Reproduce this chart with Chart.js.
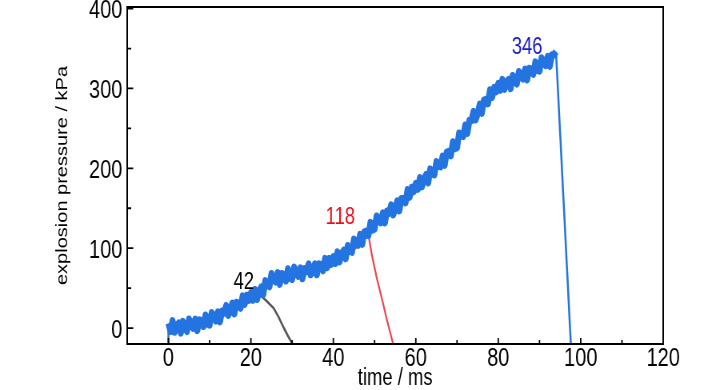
<!DOCTYPE html>
<html>
<head>
<meta charset="utf-8">
<script src="https://cdn.jsdelivr.net/npm/chart.js@4/dist/chart.umd.min.js"></script>
<style>
  html, body { margin: 0; padding: 0; background: #fff; overflow: hidden; }
  #wrap { width: 728px; height: 390px; overflow: hidden; }
  /* the original figure uses a narrow face, so the whole drawing is condensed */
  #pressure { transform: scaleX(0.8); transform-origin: 0 0; }
</style>
</head>
<body>
<div id="wrap"><canvas id="pressure" width="910" height="390"></canvas></div>
<script>
// blue trace (full explosion), sampled every 0.5 ms from 0 to 94 ms
const blueStepMs = 0.5;
const bluePressure = [
  6,-4,9,-5,3,6,-6,8,0,-4,11,4,0,11,-3,10,9,2,16,5,
  4,19,14,9,20,8,21,19,28,16,21,31,18,32,31,25,40,30,41,35,
  44,35,48,36,46,51,42,59,54,52,68,61,58,69,55,68,66,59,74,63,
  61,76,70,65,75,62,74,71,80,67,71,80,67,80,79,72,87,76,87,80,
  89,81,95,83,93,97,87,103,97,95,111,106,104,117,105,120,121,116,132,123,
  124,140,136,132,144,132,146,144,154,142,148,159,147,162,162,157,173,164,176,171,
  181,174,188,177,187,192,182,199,193,192,208,203,202,215,204,220,221,216,233,225,
  226,244,242,240,254,244,260,260,271,261,268,280,269,285,286,281,298,289,301,296,
  306,298,311,299,308,311,300,316,309,306,321,315,312,324,311,325,324,318,333,323,
  322,338,333,329,340,328,342,342,346
];
const blueHeadTime = [0, 0];
const blueHeadPressure = [-20, 3];
const blueDropTime = [94, 97.6];
const blueDropPressure = [346, -20];

// gray trace (vented at 42 kPa)
const grayTime = [22.5, 24, 25.5, 26.7, 28, 29, 30.1];
const grayPressure = [40, 33, 25, 14, 0, -10, -20];

// red trace (vented at 118 kPa)
const redTime = [43, 45, 47, 48.4, 49.4, 50.6, 52.0, 53.0, 54.5];
const redPressure = [90, 98, 108, 120, 90, 61, 32, 10, -20];

// peak annotations
const peakText = ['42', '118', '346'];
const peakTime = [18.3, 41.7, 87];
const peakPressure = [57, 138, 351];
const peakColor = ['#000000', '#e8101c', '#1a1acc'];

const xTicks = [0, 20, 40, 60, 80, 100, 120];
const xMinor = [10, 30, 50, 70, 90, 110];
const yTicks = [0, 100, 200, 300, 400];
const yMinor = [50, 150, 250, 350];

const FONT = "'Liberation Sans', Arial, sans-serif";
const BLUE = '#2373e0';

function pts(t, p) {
  return t.map((v, i) => ({ x: v, y: p[i] }));
}

const blueNoisy = bluePressure.map((p, i) => ({ x: i * blueStepMs, y: p }));

// box, inward ticks and peak labels
const decor = {
  id: 'decor',
  afterDatasetsDraw(chart) {
    const ctx = chart.ctx;
    const a = chart.chartArea;
    const xs = chart.scales.x, ys = chart.scales.y;
    ctx.save();
    ctx.strokeStyle = '#000';
    ctx.lineWidth = 2;
    ctx.strokeRect(a.left, a.top, a.right - a.left, a.bottom - a.top);
    ctx.lineWidth = 1.8;
    ctx.beginPath();
    xTicks.forEach(v => { const px = xs.getPixelForValue(v); ctx.moveTo(px, a.bottom); ctx.lineTo(px, a.bottom - 6); });
    xMinor.forEach(v => { const px = xs.getPixelForValue(v); ctx.moveTo(px, a.bottom); ctx.lineTo(px, a.bottom - 4); });
    yTicks.forEach(v => { const py = ys.getPixelForValue(v); ctx.moveTo(a.left, py); ctx.lineTo(a.left + 7.5, py); });
    yMinor.forEach(v => { const py = ys.getPixelForValue(v); ctx.moveTo(a.left, py); ctx.lineTo(a.left + 5, py); });
    ctx.stroke();
    ctx.font = '23px ' + FONT;
    ctx.textAlign = 'center';
    ctx.textBaseline = 'middle';
    peakText.forEach((s, i) => {
      ctx.fillStyle = peakColor[i];
      ctx.fillText(s, xs.getPixelForValue(peakTime[i]), ys.getPixelForValue(peakPressure[i]));
    });
    ctx.restore();
  }
};

new Chart(document.getElementById('pressure'), {
  type: 'line',
  data: {
    datasets: [
      { label: 'full', data: blueNoisy, borderColor: BLUE, borderWidth: 7.5, borderJoinStyle: 'round' },
      { label: 'full start', data: pts(blueHeadTime, blueHeadPressure), borderColor: BLUE, borderWidth: 2.5 },
      { label: 'full drop', data: pts(blueDropTime, blueDropPressure), borderColor: BLUE, borderWidth: 2.5 },
      { label: '42', data: pts(grayTime, grayPressure), borderColor: '#555555', borderWidth: 2.5 },
      { label: '118', data: pts(redTime, redPressure), borderColor: '#ec4450', borderWidth: 2.2 }
    ]
  },
  options: {
    responsive: false,
    animation: false,
    devicePixelRatio: 1,
    elements: { point: { radius: 0 }, line: { tension: 0 } },
    layout: { padding: { left: 66, top: 7, right: 81, bottom: 0 } },
    plugins: { legend: { display: false }, tooltip: { enabled: false } },
    scales: {
      x: {
        type: 'linear',
        min: -10, max: 120,
        afterBuildTicks: s => { s.ticks = xTicks.map(v => ({ value: v })); },
        afterFit: s => { s.height = 46; s.paddingLeft = 0; s.paddingRight = 0; },
        grid: { display: false, drawTicks: false },
        border: { display: false },
        ticks: { color: '#000', padding: 0, maxRotation: 0, font: { family: FONT, size: 25 } },
        title: { display: true, text: 'time / ms', color: '#000', padding: 0, font: { family: FONT, size: 23, lineHeight: 1.0 } }
      },
      y: {
        min: -20, max: 402,
        afterBuildTicks: s => { s.ticks = yTicks.map(v => ({ value: v })); },
        afterFit: s => { s.width = 93; s.paddingTop = 0; s.paddingBottom = 0; },
        grid: { display: false, drawTicks: false },
        border: { display: false },
        ticks: { color: '#000', padding: 6, labelOffset: 3, font: { family: FONT, size: 25 } },
        title: { display: true, text: 'explosion pressure / kPa', color: '#000', padding: 0, font: { family: FONT, size: 20, lineHeight: 1.2 } }
      }
    }
  },
  plugins: [decor]
});
</script>
</body>
</html>
